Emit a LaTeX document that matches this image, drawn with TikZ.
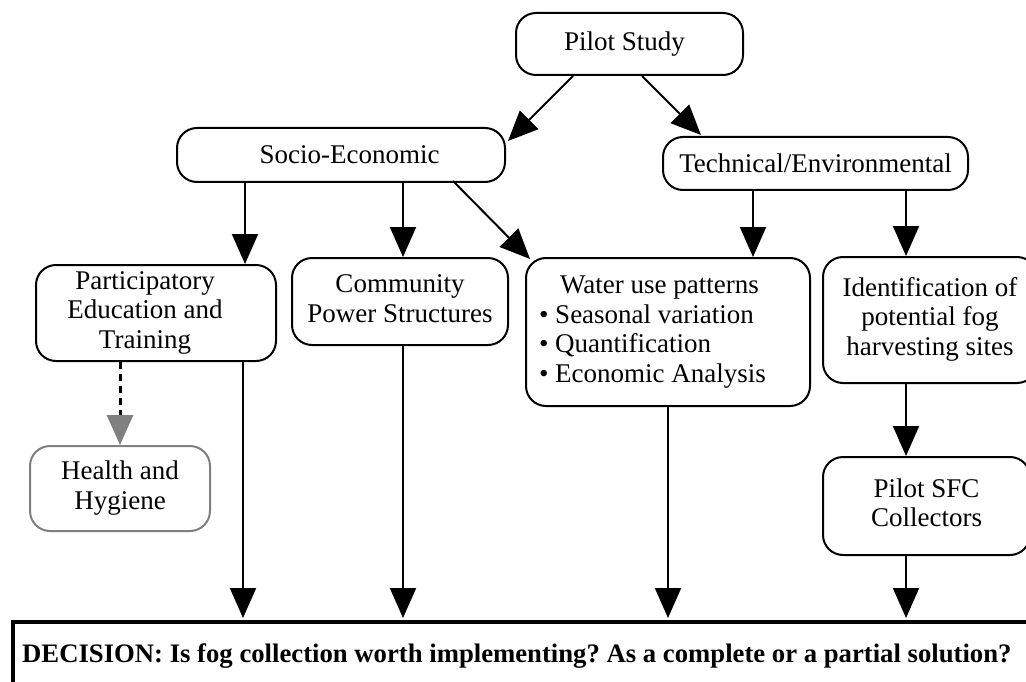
\documentclass[tikz,border=0pt]{standalone}
\usepackage{fontspec}
\setmainfont{Liberation Serif}
\usetikzlibrary{arrows.meta,calc}
\newcommand{\mlines}[1]{\begin{tabular}{@{}c@{}}#1\end{tabular}}
\frenchspacing
\begin{document}
\begin{tikzpicture}[x=1pt,y=-1pt,
  box/.style={draw, line width=2pt, rounded corners=20pt, inner sep=2pt, font=\fontsize{27}{29.5}\selectfont},
  arr/.style={line width=2pt, -{Triangle[length=30pt,width=26pt]}},
  darr/.style={line width=3pt, dash pattern=on 7pt off 5pt, -{Triangle[length=30pt,width=26pt,color=hgray,fill=hgray]}}]
\definecolor{hgray}{RGB}{128,128,128}
\useasboundingbox (0,0) rectangle (1026,682);
\clip (0,0) rectangle (1026,682);

\node[box, minimum width=227pt, minimum height=62pt] (pilot) at (629.5,44) {Pilot Study\hspace*{10pt}};
\node[box, minimum width=328pt, minimum height=54pt] (socio) at (341,155) {\hspace*{17pt}Socio-Economic};
\node[box, minimum width=305pt, minimum height=53pt] (tech) at (815.5,163.5) {Technical/Environmental};
\node[box, minimum width=240pt, minimum height=96pt] (part) at (156,313) {\mlines{Participatory\\Education and\\Training}\hspace*{22pt}};
\node[box, minimum width=216pt, minimum height=87pt] (comm) at (400,301.5) {\mlines{Community\\Power Structures}};
\node[box, minimum width=284pt, minimum height=148pt] (water) at (668,332) {\begin{tabular}{@{}l@{}}\hspace*{21pt}Water use patterns\\• Seasonal variation\\• Quantification\\• Economic Analysis\end{tabular}\hspace*{31pt}};
\node[box, minimum width=214pt, minimum height=126pt] (ident) at (930,320) {\mlines{Identification of\\potential fog\\harvesting sites}};
\node[box, draw=hgray, minimum width=180pt, minimum height=85pt] (health) at (120,488.5) {\mlines{Health and\\Hygiene}};
\node[box, minimum width=207pt, minimum height=98pt] (sfc) at (926.5,506) {\mlines{Pilot SFC\\Collectors}};

\node[draw, line width=4pt, anchor=north west, minimum width=1100pt, minimum height=120pt, inner sep=0pt] (decbox) at (11,620) {};
\node[anchor=base west, inner sep=0pt, font=\fontsize{26.7}{29.5}\selectfont\bfseries] (dec) at (22,662) {DECISION: Is fog collection worth implementing? As a complete or a partial solution?};

% top arrows
\draw[arr] ([xshift=-56.5pt]pilot.south) -- ([xshift=2pt,yshift=-14pt]socio.north east);
\draw[arr] ([xshift=12.5pt]pilot.south) -- ([xshift=39pt,yshift=1pt]tech.north west);

\coordinate (a1) at ([xshift=89pt]part.north);
\draw[arr] (socio.south -| a1) -- (a1);
\coordinate (a2) at ([xshift=3pt]comm.north);
\draw[arr] (socio.south -| a2) -- (a2);
\draw[arr] ([xshift=-53pt,yshift=2pt]socio.south east) -- ([xshift=5pt,yshift=-2pt]water.north west);
\coordinate (a3) at ([xshift=85pt]water.north);
\draw[arr] (tech.south -| a3) -- (a3);
\coordinate (a4) at ([xshift=-24pt]ident.north);
\draw[arr] (tech.south -| a4) -- (a4);

\draw[darr] (health.north |- part.south) -- (health.north);

\coordinate (b1) at ([xshift=87pt]part.south);
\draw[arr, shorten >=2pt] (b1) -- (b1 |- decbox.north);
\coordinate (b2) at ([xshift=3pt]comm.south);
\draw[arr, shorten >=2pt] (b2) -- (b2 |- decbox.north);
\draw[arr, shorten >=2pt] (water.south) -- (water.south |- decbox.north);
\coordinate (b4) at ([xshift=-24pt]ident.south);
\draw[arr] (b4) -- (b4 |- sfc.north);
\coordinate (b5) at (b4 |- sfc.south);
\draw[arr, shorten >=2pt] (b5) -- (b5 |- decbox.north);
\end{tikzpicture}
\end{document}
